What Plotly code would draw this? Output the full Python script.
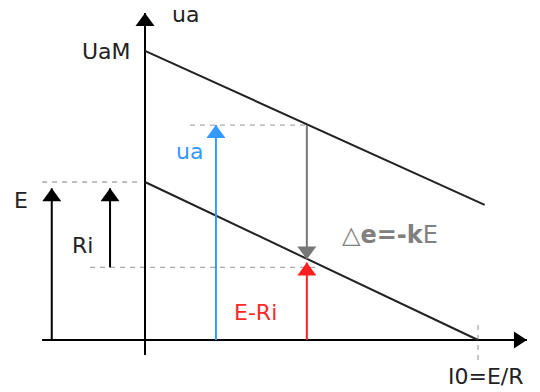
import plotly.graph_objects as go

# Operating quantities (x: current, y: voltage; I0 = E/R and E are the unit references)
E = 1.0
UaM = 1.83
I0 = 1.0

# Load characteristics
upper_x = [0.0, 1.02]
upper_y = [UaM, 0.855]
lower_x = [0.0, I0]
lower_y = [E, 0.0]

# Currents where the arrows stand
x_E_arrow = -0.28
x_Ri_arrow = -0.105
x_ua = 0.213
x_op = 0.486

# Arrow levels
ua_level = 1.36
op_lower = 0.51
eri_level = 0.49
ri_base = 0.46
e_tip = 0.96

# Axis extents
x_axis = [-0.309, 1.147]
y_axis = [-0.095, 2.07]

# Dashed guides
guide_E_x = [-0.309, -0.015]
guide_ri_x = [-0.165, 0.52]
guide_ua_x = [0.135, x_op]
guide_I0_y = [-0.127, 0.114]

# Text labels: (text, x, y, colour, anchor, size)
labels = [
    ("ua", 0.123, 2.063, "#222222", "center", 22),
    ("UaM", -0.036, 1.823, "#222222", "right", 22),
    ("ua", 0.135, 1.19, "#3399ff", "center", 22),
    ("E", -0.372, 0.886, "#222222", "center", 22),
    ("Ri", -0.189, 0.601, "#222222", "center", 22),
    ("E-Ri", 0.333, 0.177, "#ff2a2a", "center", 22),
    ("\u25b3<b>e=-k</b>E", 0.736, 0.665, "#808080", "center", 24),
    ("I0=E/R", 1.024, -0.234, "#222222", "center", 22),
]

BLACK = "#000000"
DARK = "#222222"
GREY = "#777777"
BLUE = "#3399ff"
RED = "#ff1f1f"
DASH = "#aaaaaa"

fig = go.Figure()


def seg(xs, ys, color, width, dash="solid"):
    fig.add_trace(go.Scatter(x=xs, y=ys, mode="lines",
                             line=dict(color=color, width=width, dash=dash),
                             hoverinfo="skip", showlegend=False))


# dashed guides
seg(guide_E_x, [E, E], DASH, 1.3, "5px,5px")
seg(guide_ri_x, [ri_base, ri_base], DASH, 1.3, "5px,5px")
seg(guide_ua_x, [ua_level, ua_level], DASH, 1.3, "5px,5px")
seg([I0, I0], guide_I0_y, DASH, 1.3, "5px,5px")

# main axes
seg(x_axis, [0, 0], BLACK, 2)
seg([0, 0], y_axis, BLACK, 2)

# load lines
seg(upper_x, upper_y, DARK, 2)
seg(lower_x, lower_y, DARK, 2)

# arrow shafts
seg([x_E_arrow, x_E_arrow], [0, e_tip], BLACK, 2)
seg([x_Ri_arrow, x_Ri_arrow], [ri_base, e_tip], BLACK, 2)
seg([x_ua, x_ua], [0, ua_level], BLUE, 2)
seg([x_op, x_op], [ua_level, op_lower], GREY, 2)
seg([x_op, x_op], [0, eri_level], RED, 2)

# arrowheads, sized in pixels around each tip
UP = "M-9.5,-13 L9.5,-13 L0,0 Z"
DOWN = "M-9.5,13 L9.5,13 L0,0 Z"
RIGHT = "M-13,-8.5 L-13,8.5 L0,0 Z"
heads = [
    (0, y_axis[1], UP, BLACK),
    (x_axis[1], 0, RIGHT, BLACK),
    (x_E_arrow, e_tip, UP, BLACK),
    (x_Ri_arrow, e_tip, UP, BLACK),
    (x_ua, ua_level, UP, BLUE),
    (x_op, op_lower, DOWN, GREY),
    (x_op, eri_level, UP, RED),
]
for hx, hy, path, col in heads:
    fig.add_shape(type="path", xref="x", yref="y",
                  xsizemode="pixel", ysizemode="pixel",
                  xanchor=hx, yanchor=hy, path=path,
                  fillcolor=col, line=dict(color=col, width=0))

for text, tx, ty, col, anchor, size in labels:
    fig.add_annotation(x=tx, y=ty, text=text, showarrow=False,
                       xanchor=anchor, yanchor="middle",
                       font=dict(family="DejaVu Sans", size=size, color=col))

fig.update_layout(
    width=540, height=392,
    margin=dict(l=0, r=0, t=0, b=0),
    paper_bgcolor="white", plot_bgcolor="white",
    xaxis=dict(range=[-145 / 333, 395 / 333], visible=False, fixedrange=True),
    yaxis=dict(range=[-52 / 158, 340 / 158], visible=False, fixedrange=True),
    showlegend=False,
)

fig.write_html("out.html")
